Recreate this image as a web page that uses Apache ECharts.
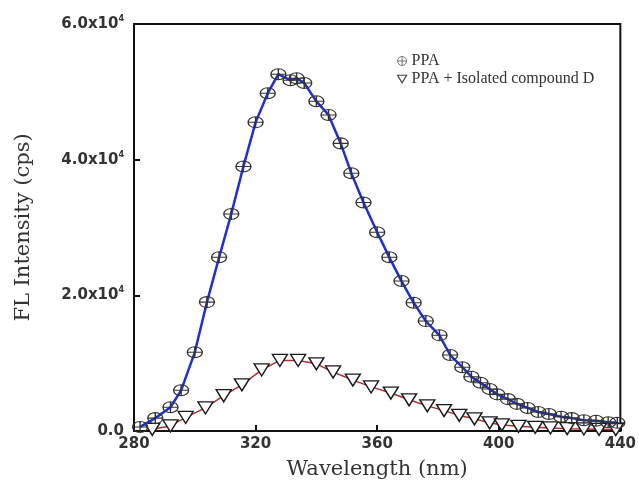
<!DOCTYPE html>
<html><head><meta charset="utf-8">
<script src="https://cdn.jsdelivr.net/npm/echarts/dist/echarts.min.js"></script>
<style>html,body{margin:0;padding:0;background:#fff}#c{width:639px;height:492px}</style>
</head><body><div id="c"></div>
<script>
const xMin = 280, xMax = 440, xStep = 40;
const yMin = 0, yMax = 60000, yStep = 20000;
const seriesNames = ['PPA', 'PPA + Isolated compound D'];
const xTitle = 'Wavelength (nm)';
const yTitle = 'FL Intensity (cps)';

const ppaWl = [282, 287, 292, 295.5, 300, 304, 308, 312, 316, 320, 324, 327.5, 331.5, 333.5, 336, 340, 344, 348, 351.5, 355.5, 360, 364, 368, 372, 376, 380.5, 384, 388, 391, 394, 397, 399.5, 403, 406, 409.5, 413, 416.5, 420.5, 424, 428, 432, 436, 439];
const ppaVal = [600, 1900, 3500, 6000, 11600, 19000, 25600, 32000, 39000, 45500, 49800, 52600, 51700, 52000, 51300, 48600, 46600, 42400, 38000, 33700, 29300, 25600, 22100, 18900, 16200, 14100, 11200, 9400, 8000, 7100, 6200, 5400, 4700, 4000, 3400, 2800, 2500, 2100, 1900, 1600, 1500, 1300, 1200];

const mixWl = [286, 292, 297, 303.5, 309.5, 315.5, 322, 328, 334, 340, 345.5, 352, 358, 364.5, 370.5, 376.5, 382, 387, 392, 397, 401, 406.5, 412, 417, 422.5, 428, 433, 438.5];
const mixVal = [250, 750, 2000, 3400, 5200, 6800, 9000, 10400, 10400, 9900, 8700, 7500, 6500, 5600, 4600, 3700, 3000, 2300, 1800, 1200, 900, 700, 550, 450, 350, 300, 250, 200];

const circlePlus = 'path://M0,6a6,6 0 1,0 12,0a6,6 0 1,0 -12,0M6,0L6,12M0,6L12,6';
const triDown = 'path://M0,0L12,0L6,10Z';

const chart = echarts.init(document.getElementById('c'));
chart.setOption({
  animation: false,
  backgroundColor: '#fff',
  grid: {left: 134, right: 18, top: 24, bottom: 61, show: true, borderColor: '#111', borderWidth: 2},
  legend: {
    orient: 'vertical', left: 392, top: 48, itemGap: 2, itemWidth: 9, itemHeight: 9,
    textStyle: {fontFamily: 'Liberation Serif', fontSize: 16, color: '#333'},
    data: [
      {name: seriesNames[0], icon: circlePlus, itemStyle: {color: 'transparent', borderColor: '#777', borderWidth: 1}},
      {name: seriesNames[1], icon: triDown, itemStyle: {color: '#fff', borderColor: '#444', borderWidth: 1.2}}
    ]
  },
  xAxis: {
    type: 'value', min: xMin, max: xMax, interval: xStep,
    name: xTitle, nameLocation: 'middle', nameGap: 28,
    nameTextStyle: {fontFamily: 'DejaVu Serif', fontSize: 21, color: '#333'},
    axisLine: {lineStyle: {color: '#111', width: 2}},
    axisTick: {inside: true, length: 6, lineStyle: {color: '#111', width: 2}},
    splitLine: {show: false},
    axisLabel: {margin: 6, fontFamily: 'DejaVu Sans', fontWeight: 'bold', fontSize: 15, color: '#333'}
  },
  yAxis: {
    type: 'value', min: yMin, max: yMax, interval: yStep,
    name: yTitle, nameLocation: 'middle', nameGap: 100,
    nameTextStyle: {fontFamily: 'DejaVu Serif', fontSize: 21, color: '#333'},
    axisLine: {lineStyle: {color: '#111', width: 2}},
    axisTick: {inside: true, length: 6, lineStyle: {color: '#111', width: 2}},
    splitLine: {show: false},
    axisLabel: {
      margin: 10,
      formatter: v => v === 0 ? '{b|0.0}' : '{b|' + (v / 10000).toFixed(1) + 'x10}{s|4}',
      rich: {
        b: {fontFamily: 'DejaVu Sans', fontWeight: 'bold', fontSize: 15, color: '#333', lineHeight: 18},
        s: {fontFamily: 'DejaVu Sans', fontWeight: 'bold', fontSize: 8, color: '#333', verticalAlign: 'top', lineHeight: 18}
      }
    }
  },
  series: [
    {
      name: seriesNames[0], type: 'line', data: ppaWl.map((w, i) => [w, ppaVal[i]]),
      symbol: circlePlus, symbolSize: [15, 11], showAllSymbol: true,
      lineStyle: {color: '#1f2fd0', width: 2.5},
      itemStyle: {color: 'transparent', borderColor: '#333', borderWidth: 1.2},
      z: 3
    },
    {
      name: seriesNames[1], type: 'line', data: mixWl.map((w, i) => [w, mixVal[i]]),
      symbol: triDown, symbolSize: [15, 12], showAllSymbol: true,
      lineStyle: {color: '#b03030', width: 1.5},
      itemStyle: {color: '#fff', borderColor: '#1a1a1a', borderWidth: 1.4},
      z: 2
    }
  ]
});
</script></body></html>
